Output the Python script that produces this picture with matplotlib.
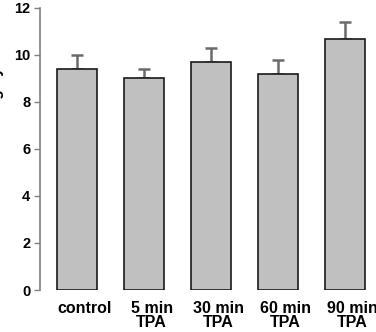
import matplotlib

matplotlib.use("Agg")

import matplotlib.pyplot as plt
import matplotlib.transforms as mtransforms
import numpy as np

categories = ["control", "5 min\nTPA", "30 min\nTPA", "60 min\nTPA", "90 min\nTPA"]
means      = [9.4, 9.0, 9.7, 9.2, 10.7]
errors     = [0.6, 0.4, 0.6, 0.6, 0.7]
y_ticks    = [0, 2, 4, 6, 8, 10, 12]

plt.rcParams["font.family"] = ["Liberation Sans", "DejaVu Sans"]
plt.rcParams["font.weight"] = "bold"

figure = plt.figure(figsize=(3.76, 3.32), dpi=100)
axis   = figure.add_axes([0.106, 0.1265, 0.891, 0.8495])

positions = np.arange(len(categories))
axis.bar(positions, means, width=0.6, color="#c0c0c0", edgecolor="#1a1a1a", linewidth=1.2, zorder=2)
axis.errorbar(positions, means, yerr=[np.zeros(len(errors)), errors], fmt="none",
              ecolor="#6a6a6a", elinewidth=1.8, capsize=4.5, capthick=1.8, zorder=1)

axis.set_xlim(-0.55, 4.45)
axis.set_ylim(0, 12)
axis.set_yticks(y_ticks)
axis.set_yticklabels([str(t) for t in y_ticks], fontsize=10.5, fontweight="bold")
axis.set_xticks(positions)
axis.set_xticklabels(categories, fontsize=11.5, fontweight="bold", va="top", linespacing=0.9)
axis.tick_params(axis="x", length=0, pad=8)
axis.tick_params(axis="y", length=4, width=1, color="#808080", pad=3)

# labels in the original sit a little right of the bar centres
shift = mtransforms.ScaledTranslation(0.08, 0, figure.dpi_scale_trans)
for label in axis.get_xticklabels():
    label.set_transform(label.get_transform() + shift)

for side in ("top", "right", "bottom"):
    axis.spines[side].set_visible(False)
axis.spines["left"].set_color("#808080")
axis.spines["left"].set_linewidth(1.2)

axis.set_ylabel("Number of cells receiving dye", fontsize=11.2, fontweight="bold")
axis.yaxis.set_label_coords(-0.106, 0.433)

figure.savefig("out.png", dpi=100)
